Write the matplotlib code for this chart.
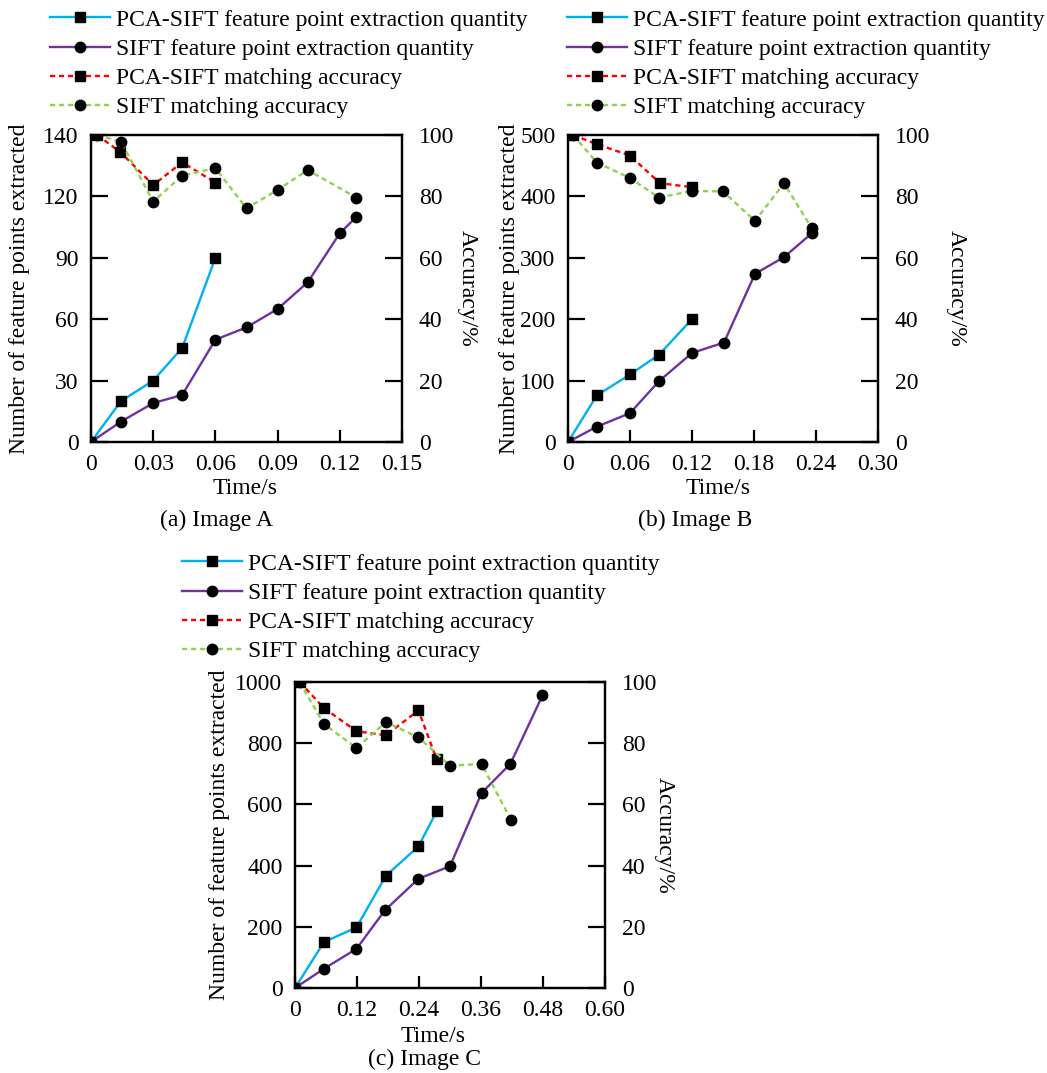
"""
Feature point extraction quantity and matching accuracy vs. time,
PCA-SIFT against SIFT, for three test images.
"""

import matplotlib
matplotlib.use("Agg")
import matplotlib.pyplot as plt
from matplotlib.lines import Line2D

plt.rcParams["font.family"] = ["Liberation Serif", "DejaVu Serif"]
plt.rcParams["font.size"] = 17

# ---------------------------------------------------------------------------
# Data (time in s, quantity in points, accuracy in %)
# ---------------------------------------------------------------------------

# Image A
a_pca_t = [0, 0.0145, 0.030, 0.044, 0.060]
a_pca_n = [0, 20, 30, 46, 90]
a_sift_t = [0, 0.0145, 0.030, 0.044, 0.060, 0.075, 0.090, 0.1045, 0.120, 0.128]
a_sift_n = [0, 10, 19, 23, 50, 56, 65, 78, 102, 110]
a_pca_acc_t = [0.003, 0.0142, 0.030, 0.044, 0.060]
a_pca_acc = [100, 94.4, 83.7, 91.1, 84.5]
a_sift_acc_t = [0.003, 0.0145, 0.030, 0.044, 0.060, 0.075, 0.090, 0.1045, 0.128]
a_sift_acc = [100, 97.8, 78.3, 86.8, 89.2, 76.1, 82.1, 88.6, 79.6]

# Image B
b_pca_t = [0, 0.028, 0.060, 0.088, 0.120]
b_pca_n = [0, 76, 110, 142, 200]
b_sift_t = [0, 0.028, 0.060, 0.088, 0.120, 0.151, 0.181, 0.209, 0.236]
b_sift_n = [0, 25, 47, 99, 145, 162, 274, 301, 340]
b_pca_acc_t = [0.005, 0.028, 0.060, 0.089, 0.120]
b_pca_acc = [100, 97.0, 93.3, 84.3, 83.0]
b_sift_acc_t = [0.005, 0.028, 0.060, 0.088, 0.120, 0.150, 0.181, 0.209, 0.236]
b_sift_acc = [100, 91.0, 86.0, 79.6, 81.8, 81.6, 72.0, 84.3, 69.6]

# Image C
c_pca_t = [0, 0.056, 0.119, 0.176, 0.239, 0.274]
c_pca_n = [0, 150, 198, 367, 463, 577]
c_sift_t = [0, 0.056, 0.119, 0.174, 0.239, 0.300, 0.361, 0.417, 0.479]
c_sift_n = [0, 63, 128, 254, 357, 398, 637, 733, 956]
c_pca_acc_t = [0.009, 0.056, 0.119, 0.176, 0.239, 0.274]
c_pca_acc = [100, 91.5, 83.9, 82.6, 90.7, 74.8]
c_sift_acc_t = [0.009, 0.056, 0.119, 0.176, 0.239, 0.300, 0.361, 0.418]
c_sift_acc = [100, 86.3, 78.4, 86.9, 81.9, 72.7, 73.2, 55.0]

# Axis ticks per panel
a_xticks = [0, 0.03, 0.06, 0.09, 0.12, 0.15]
a_xlabels = ["0", "0.03", "0.06", "0.09", "0.12", "0.15"]
a_yticks = [0, 30, 60, 90, 120, 150]
a_ylabels = ["0", "30", "60", "90", "120", "140"]   # top label reads 140 in the source

b_xticks = [0, 0.06, 0.12, 0.18, 0.24, 0.30]
b_xlabels = ["0", "0.06", "0.12", "0.18", "0.24", "0.30"]
b_yticks = [0, 100, 200, 300, 400, 500]
b_ylabels = ["0", "100", "200", "300", "400", "500"]

c_xticks = [0, 0.12, 0.24, 0.36, 0.48, 0.60]
c_xlabels = ["0", "0.12", "0.24", "0.36", "0.48", "0.60"]
c_yticks = [0, 200, 400, 600, 800, 1000]
c_ylabels = ["0", "200", "400", "600", "800", "1000"]

acc_ticks = [0, 20, 40, 60, 80, 100]

LABELS = [
    "PCA-SIFT feature point extraction quantity",
    "SIFT feature point extraction quantity",
    "PCA-SIFT matching accuracy",
    "SIFT matching accuracy",
]

CYAN = "#00B0F0"
PURPLE = "#7030A0"
RED = "#FF0000"
GREEN = "#92D050"
DASH = (0, (2.2, 1.6))
LW = 1.7
MS = 7.5

FIG_W, FIG_H = 1047, 1073


def px_rect(left, top, right, bottom):
    """Axes rectangle from pixel edges (origin top-left)."""
    return [left / FIG_W, 1 - bottom / FIG_H, (right - left) / FIG_W, (bottom - top) / FIG_H]


def draw_panel(fig, box, pca, sift, pca_acc, sift_acc, xt, xl, yt, yl,
               title, title_xy, lab_dx, time_x, time_dy):
    left, top, right, bottom = box
    ax = fig.add_axes(px_rect(*box))
    ax2 = ax.twinx()
    w, h = right - left, bottom - top

    ax.plot(pca[0], pca[1], color=CYAN, lw=LW, marker="s", ms=MS, mfc="black",
            mec="black", zorder=3)
    ax.plot(sift[0], sift[1], color=PURPLE, lw=LW, marker="o", ms=MS, mfc="black",
            mec="black", zorder=3)
    ax2.plot(pca_acc[0], pca_acc[1], color=RED, lw=LW, ls=DASH, marker="s", ms=MS,
             mfc="black", mec="black")
    ax2.plot(sift_acc[0], sift_acc[1], color=GREEN, lw=LW, ls=DASH, marker="o", ms=MS,
             mfc="black", mec="black")

    ax.set_xlim(xt[0], xt[-1])
    ax.set_ylim(yt[0], yt[-1])
    ax.set_xticks(xt, xl)
    ax.set_yticks(yt, yl)
    ax2.set_ylim(0, 100)
    ax2.set_yticks(acc_ticks)

    ax.tick_params(axis="y", direction="in", length=12.5, width=1.6, pad=9)
    ax.tick_params(axis="x", direction="in", length=8.5, width=1.6, pad=9)
    ax2.tick_params(axis="y", direction="in", length=12.5, width=1.6, pad=12)
    for a in (ax, ax2):
        for sp in a.spines.values():
            sp.set_linewidth(1.6)

    # label positions measured in pixels from the axes edges
    ax.set_xlabel("Time/s", va="center")
    ax.xaxis.set_label_coords(time_x, -time_dy / h)
    ax.set_ylabel("Number of feature points extracted", va="center")
    ax.yaxis.set_label_coords(lab_dx[0] / w, 0.5)
    ax2.set_ylabel("Accuracy/%", rotation=-90, va="center")
    ax2.yaxis.set_label_coords(1 + lab_dx[1] / w, 0.5)

    fig.text(title_xy[0] / FIG_W, 1 - title_xy[1] / FIG_H, title,
             ha="center", va="center")
    return ax


def add_legend(fig, x, y):
    handles = [
        Line2D([], [], color=CYAN, lw=LW, marker="s", ms=MS, mfc="black", mec="black"),
        Line2D([], [], color=PURPLE, lw=LW, marker="o", ms=MS, mfc="black", mec="black"),
        Line2D([], [], color=RED, lw=LW, ls=DASH, marker="s", ms=MS, mfc="black", mec="black"),
        Line2D([], [], color=GREEN, lw=LW, ls=DASH, marker="o", ms=MS, mfc="black", mec="black"),
    ]
    fig.legend(handles, LABELS, loc="upper left",
               bbox_to_anchor=(x / FIG_W, 1 - y / FIG_H),
               frameon=False, borderpad=0, borderaxespad=0, handlelength=2.55,
               handletextpad=0.25, labelspacing=0.33, fontsize=17)


fig = plt.figure(figsize=(FIG_W / 100, FIG_H / 100), dpi=100)

draw_panel(fig, (91, 135, 402, 442),
           (a_pca_t, a_pca_n), (a_sift_t, a_sift_n),
           (a_pca_acc_t, a_pca_acc), (a_sift_acc_t, a_sift_acc),
           a_xticks, a_xlabels, a_yticks, a_ylabels,
           "(a) Image A", (216, 520), (-71, 65), 0.495, 46)
draw_panel(fig, (568, 135, 878, 442),
           (b_pca_t, b_pca_n), (b_sift_t, b_sift_n),
           (b_pca_acc_t, b_pca_acc), (b_sift_acc_t, b_sift_acc),
           b_xticks, b_xlabels, b_yticks, b_ylabels,
           "(b) Image B", (695, 520), (-58, 78), 0.484, 46)
draw_panel(fig, (295, 682, 605, 988),
           (c_pca_t, c_pca_n), (c_sift_t, c_sift_n),
           (c_pca_acc_t, c_pca_acc), (c_sift_acc_t, c_sift_acc),
           c_xticks, c_xlabels, c_yticks, c_ylabels,
           "(c) Image C", (425, 1059), (-75, 59), 0.445, 49)

add_legend(fig, 50, 9)
add_legend(fig, 567, 9)
add_legend(fig, 182, 553)

fig.savefig("out.png", dpi=100)
